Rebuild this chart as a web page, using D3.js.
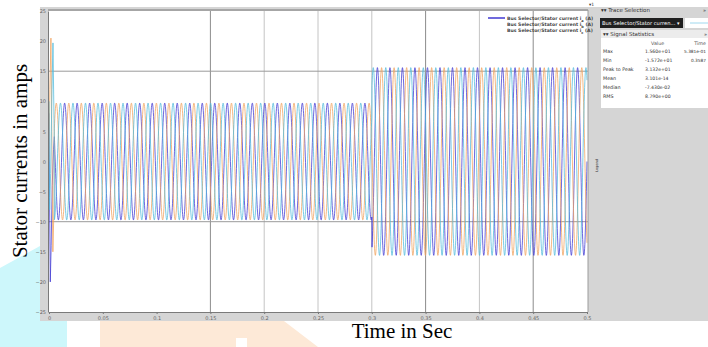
<!DOCTYPE html>
<html>
<head>
<meta charset="utf-8">
<script src="https://cdn.jsdelivr.net/npm/d3@7"></script>
<style>
	body { margin: 0; background: #fff; }
	svg { display: block; }
</style>
</head>
<body>
<div id="chart"></div>
<script>
//////////////////////////////////////////////////
// data
//////////////////////////////////////////////////
var xTicks = [0, 0.05, 0.1, 0.15, 0.2, 0.25, 0.3, 0.35, 0.4, 0.45, 0.5];
var xTickLabels = ['0', '0.05', '0.1', '0.15', '0.2', '0.25', '0.3', '0.35', '0.4', '0.45', '0.5'];
var yTicks = [25, 20, 15, 10, 5, 0, -5, -10, -15, -20, -25];
var gridTimes = [0.2, 0.25, 0.3, 0.4];
var cursorTimes = [0.15, 0.35, 0.45];
var cursorLevels = [15, -10];

var seriesNames = ['i_a', 'i_b', 'i_c'];
var seriesColors = ['#4038d2', '#f0a35e', '#52bbdc'];

// start-up transient, one list per phase
var transientT = [
	[0, 0.0005, 0.0012, 0.002, 0.003, 0.0042],
	[0, 0.0008, 0.0018, 0.0026, 0.0036, 0.0046],
	[0, 0.0006, 0.0015, 0.0028, 0.0037, 0.0048]
];
var transientV = [
	[8, -6, -20, -14, -4, 2],
	[0, 12, 20.5, 5, -15, -8],
	[10, -8, -2, 12, 19.7, 5]
];

// steady state: amplitude steps up at 0.3 s
var levelStart = [0.005, 0.3];
var levelAmp = [9.7, 15.6];
var lineFreq = 86;
var phaseDeg = [0, -120, 120];

var statNames = ['Max', 'Min', 'Peak to Peak', 'Mean', 'Median', 'RMS'];
var statValues = ['1.560e+01', '-1.572e+01', '3.132e+01', '3.101e-14', '-7.430e-02', '8.790e+00'];
var statTimes = ['5.381e-01', '0.3587', '', '', '', ''];

//////////////////////////////////////////////////
// canvas
//////////////////////////////////////////////////
var width = 708, height = 347;
var plot = {left: 48, right: 588, top: 10, bottom: 312};

var svg = d3.select('#chart')
	.append('svg')
	.attr('width', width)
	.attr('height', height);

var defs = svg.append('defs');
defs.append('filter')
	.attr('id', 'soft')
	.append('feGaussianBlur')
	.attr('stdDeviation', 0.35);

// page watermark behind the figure
svg.append('polygon')
	.attr('points', '0,268 40,246 67,246 67,347 0,347')
	.style('fill', '#cdf7fb');
svg.append('polygon')
	.attr('points', '100,318 280,318 318,347 100,347')
	.style('fill', '#fde9d7');
svg.append('rect')
	.attr('x', 236).attr('y', 338).attr('width', 11).attr('height', 9)
	.style('fill', '#fff');

// gray window frame
svg.append('rect')
	.attr('x', 40).attr('y', 7)
	.attr('width', width - 40).attr('height', 314)
	.style('fill', '#d5d5d5');

svg.append('rect')
	.attr('x', plot.left).attr('y', plot.top)
	.attr('width', plot.right - plot.left).attr('height', plot.bottom - plot.top)
	.style('fill', '#fff');

var x = d3.scaleLinear().domain([0, 0.5]).range([49, 587]);
var y = d3.scaleLinear().domain([-25, 25]).range([312, 11]);

//////////////////////////////////////////////////
// grid and cursors
//////////////////////////////////////////////////
svg.selectAll('line.grid')
	.data(gridTimes)
	.enter().append('line')
	.attr('class', 'grid')
	.attr('x1', function(d) { return x(d); })
	.attr('x2', function(d) { return x(d); })
	.attr('y1', plot.top).attr('y2', plot.bottom)
	.style('stroke', '#c4c4c4')
	.style('stroke-width', 1);

svg.selectAll('line.vcursor')
	.data(cursorTimes)
	.enter().append('line')
	.attr('class', 'vcursor')
	.attr('x1', function(d) { return x(d); })
	.attr('x2', function(d) { return x(d); })
	.attr('y1', plot.top).attr('y2', plot.bottom)
	.style('stroke', '#8c8c8c')
	.style('stroke-width', 1);

svg.selectAll('line.hcursor')
	.data(cursorLevels)
	.enter().append('line')
	.attr('class', 'hcursor')
	.attr('x1', plot.left).attr('x2', plot.right)
	.attr('y1', function(d) { return y(d); })
	.attr('y2', function(d) { return y(d); })
	.style('stroke', '#9a9a9a')
	.style('stroke-width', 1);

//////////////////////////////////////////////////
// series
//////////////////////////////////////////////////
function buildSeries(k) {
	var pts = [];
	transientT[k].forEach(function(t, i) {
		pts.push([t, transientV[k][i]]);
	});
	var dt = 0.0002;
	for (var t = levelStart[0]; t <= 0.5 + 1e-9; t += dt) {
		var amp = t < levelStart[1] ? levelAmp[0] : levelAmp[1];
		if (Math.abs(t - levelStart[1]) < dt / 2) {
			pts.push([t, levelAmp[0] * Math.sin(2 * Math.PI * lineFreq * t + phaseDeg[k] * Math.PI / 180)]);
		}
		pts.push([t, amp * Math.sin(2 * Math.PI * lineFreq * t + phaseDeg[k] * Math.PI / 180)]);
	}
	return pts;
}

var line = d3.line()
	.x(function(d) { return x(d[0]); })
	.y(function(d) { return y(d[1]); });

var traces = svg.append('g').attr('filter', 'url(#soft)');
seriesNames.forEach(function(name, k) {
	traces.append('path')
		.datum(buildSeries(k))
		.attr('d', line)
		.style('fill', 'none')
		.style('stroke', seriesColors[k])
		.style('stroke-width', 0.9)
		.style('stroke-opacity', 0.85);
});

//////////////////////////////////////////////////
// axes
//////////////////////////////////////////////////
svg.append('line')
	.attr('x1', plot.left).attr('x2', plot.right)
	.attr('y1', plot.top).attr('y2', plot.top)
	.style('stroke', '#a6a6a6').style('stroke-width', 2);
svg.append('line')
	.attr('x1', plot.right).attr('x2', plot.right)
	.attr('y1', plot.top).attr('y2', plot.bottom)
	.style('stroke', '#9c9c9c');

var xAxis = svg.append('g')
	.attr('transform', 'translate(0,' + plot.bottom + ')')
	.call(d3.axisBottom(x)
		.tickValues(xTicks)
		.tickSize(2)
		.tickPadding(2)
		.tickFormat(function(d, i) { return xTickLabels[i]; }));

var yAxis = svg.append('g')
	.attr('transform', 'translate(' + plot.left + ',0)')
	.call(d3.axisLeft(y)
		.tickValues(yTicks)
		.tickSize(0)
		.tickPadding(2));

[xAxis, yAxis].forEach(function(ax) {
	ax.select('.domain').style('stroke', '#7a7a7a');
	ax.selectAll('.tick line').style('stroke', '#777');
	ax.selectAll('text')
		.style('font-family', 'DejaVu Sans')
		.style('font-size', '5px')
		.style('fill', '#666');
});

//////////////////////////////////////////////////
// legend
//////////////////////////////////////////////////
var legend = svg.append('g').attr('transform', 'translate(488,18)');
seriesNames.forEach(function(name, k) {
	var row = legend.append('g').attr('transform', 'translate(0,' + (k * 6) + ')');
	if (k === 0) {
		row.append('line')
			.attr('x1', 0).attr('x2', 17).attr('y1', 0).attr('y2', 0)
			.style('stroke', seriesColors[k]).style('stroke-width', 1.5);
	}
	var txt = row.append('text')
		.attr('x', 19).attr('y', 1.6)
		.style('font-family', 'DejaVu Sans')
		.style('font-size', '4.6px')
		.style('font-weight', 'bold')
		.style('fill', '#444');
	txt.append('tspan').text('Bus Selector/Stator current i');
	txt.append('tspan').attr('baseline-shift', 'sub').style('font-size', '3.5px').text(name.slice(2));
	txt.append('tspan').text(' (A)');
});

//////////////////////////////////////////////////
// right side panels
//////////////////////////////////////////////////
var side = svg.append('g');
var smallFont = function(sel, size, color) {
	return sel.style('font-family', 'DejaVu Sans')
		.style('font-size', size + 'px')
		.style('fill', color);
};

smallFont(side.append('text').attr('x', 589).attr('y', 6).text('\u25be1'), 4.5, '#333');
smallFont(side.append('text').attr('x', 601).attr('y', 12).text('\u25be\u25be Trace Selection'), 5.5, '#333');
smallFont(side.append('text').attr('x', 703).attr('y', 12).text('\u00bb'), 5, '#444');

side.append('rect')
	.attr('x', 600).attr('y', 18).attr('width', 83).attr('height', 10)
	.style('fill', '#1f1f1f');
smallFont(side.append('text').attr('x', 602).attr('y', 25).text('Bus Selector/Stator curren...'), 5.2, '#fff');
smallFont(side.append('text').attr('x', 677).attr('y', 25).text('\u25be'), 5, '#fff');
side.append('rect')
	.attr('x', 685).attr('y', 18).attr('width', 23).attr('height', 10)
	.style('fill', '#fff');
side.append('line')
	.attr('x1', 690).attr('x2', 708).attr('y1', 23).attr('y2', 23)
	.style('stroke', '#9fd8ee').style('stroke-width', 1);

side.append('rect')
	.attr('x', 601).attr('y', 30).attr('width', 107).attr('height', 78)
	.style('fill', '#fff');
side.append('rect')
	.attr('x', 601).attr('y', 30).attr('width', 107).attr('height', 8)
	.style('fill', '#ececec');
smallFont(side.append('text').attr('x', 603).attr('y', 36).text('\u25be\u25be Signal Statistics'), 5.5, '#333');
smallFont(side.append('text').attr('x', 704).attr('y', 36).text('\u00bb'), 5, '#444');
smallFont(side.append('text').attr('x', 651).attr('y', 45).text('Value'), 4.8, '#555');
smallFont(side.append('text').attr('x', 706).attr('y', 45).attr('text-anchor', 'end').text('Time'), 4.8, '#555');

statNames.forEach(function(name, i) {
	var yy = 53 + i * 9;
	smallFont(side.append('text').attr('x', 603).attr('y', yy).text(name), 4.8, '#333');
	smallFont(side.append('text').attr('x', 645).attr('y', yy).text(statValues[i]), 4.6, '#333');
	smallFont(side.append('text').attr('x', 706).attr('y', yy).attr('text-anchor', 'end').text(statTimes[i]), 4.3, '#333');
});

smallFont(side.append('text')
	.attr('transform', 'translate(598,172) rotate(-90)')
	.text('Legend'), 3.5, '#333');

//////////////////////////////////////////////////
// axis titles
//////////////////////////////////////////////////
svg.append('text')
	.attr('transform', 'translate(27,161) rotate(-90)')
	.attr('text-anchor', 'middle')
	.style('font-family', 'Liberation Serif')
	.style('font-size', '21px')
	.style('fill', '#000')
	.text('Stator currents in amps');

svg.append('text')
	.attr('x', 402).attr('y', 338)
	.attr('text-anchor', 'middle')
	.style('font-family', 'Liberation Serif')
	.style('font-size', '21px')
	.style('fill', '#000')
	.text('Time in Sec');
</script>
</body>
</html>
